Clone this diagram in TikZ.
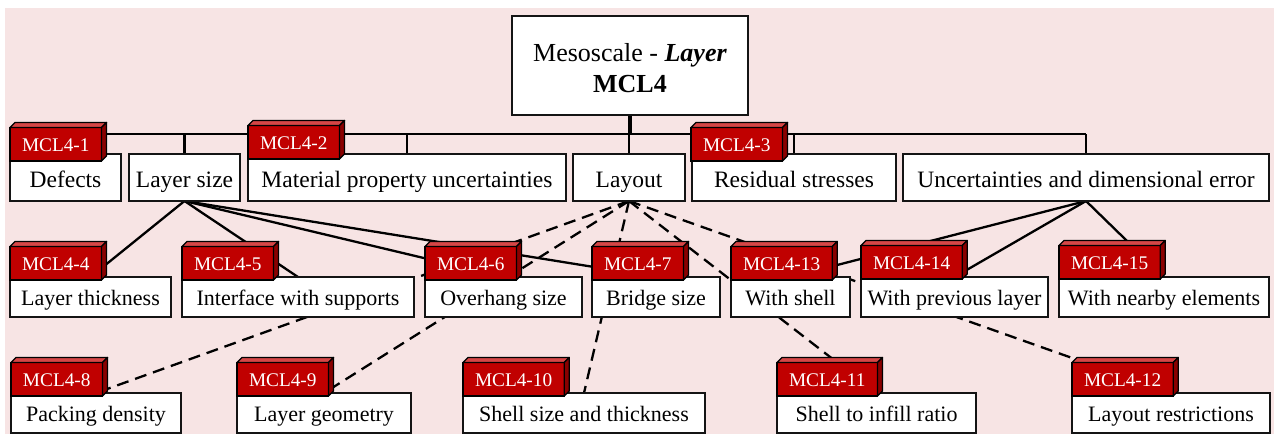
\documentclass[tikz,border=0pt]{standalone}
\usepackage{fontspec}
\setmainfont{Liberation Serif}
\usetikzlibrary{calc}

\definecolor{bgpink}{RGB}{247,228,228}
\definecolor{tagred}{RGB}{192,0,0}
\definecolor{tagtop}{RGB}{214,70,70}
\definecolor{tagside}{RGB}{138,0,0}
\definecolor{edge}{RGB}{20,20,20}

\pgfdeclarelayer{back}
\pgfdeclarelayer{wires}
\pgfsetlayers{back,wires,main}

\tikzset{
  box/.style={draw=edge, line width=1.6pt, fill=white, rectangle, outer sep=0pt,
    inner xsep=2pt, inner ysep=0pt, anchor=north west, align=center},
  lvlone/.style={box, minimum height=47pt, text height=25pt, text depth=5pt,
    font=\fontsize{23.5}{28}\selectfont},
  lvltwo/.style={box, minimum height=40pt, text height=21pt, text depth=5pt,
    font=\fontsize{22}{26}\selectfont},
  lvlthree/.style={lvltwo, text height=22pt},
  tagbox/.style={rectangle, fill=tagred, draw=black, line width=1.3pt, text=white,
    outer sep=0pt, inner xsep=12pt, inner ysep=0pt, minimum height=33.5pt,
    text height=17pt, text depth=3pt,
    anchor=south west, font=\fontsize{19.3}{22}\selectfont},
  tagedge/.style={draw=black, line width=1.3pt, line join=round},
  link/.style={line width=2.3pt, black},
  dlink/.style={line width=2.3pt, black, dash pattern=on 12pt off 7pt},
}

% red 3-D label block: name, x, y of the front face's lower left corner, text
\newcommand{\mcltag}[4]{%
  \node[tagbox] (#1) at (#2,#3) {#4};
  \filldraw[tagedge, fill=tagtop] (#1.north west) -- ++(5,-5)
    -- ($(#1.north east)+(5,-5)$) -- (#1.north east) -- cycle;
  \filldraw[tagedge, fill=tagside] (#1.north east) -- ++(5,-5)
    -- ($(#1.south east)+(5,-5)$) -- (#1.south east) -- cycle;
}

\begin{document}
\begin{tikzpicture}[x=1pt, y=-1pt]
\useasboundingbox (0,0) rectangle (1274,434);
\begin{pgfonlayer}{back}
  \fill[bgpink] (5,8) rectangle (1274,434);
\end{pgfonlayer}

% root
\node[box, minimum width=236pt, minimum height=99pt] (root) at (512,16) {};
\node[align=center, inner sep=0pt, font=\fontsize{26}{31}\selectfont] (roottext)
  at ($(root.center)+(0,3)$) {Mesoscale - \textbf{\textit{Layer}}\\\textbf{MCL4}};

% first level
\node[lvlone, minimum width=111pt] (def) at (10,154) {Defects};
\node[lvlone, minimum width=111pt] (lsz) at (129,154) {Layer size};
\node[lvlone, minimum width=318pt] (mat) at (248,154) {Material property uncertainties};
\node[lvlone, minimum width=112pt] (lay) at (573,154) {Layout};
\node[lvlone, minimum width=204pt] (res) at (692,154) {Residual stresses};
\node[lvlone, minimum width=366pt] (unc) at (903,154) {Uncertainties and dimensional error};

% second level
\node[lvltwo, minimum width=161pt] (thk) at (10,277) {Layer thickness};
\node[lvltwo, minimum width=232pt] (ifs) at (182,277) {Interface with supports};
\node[lvltwo, minimum width=157pt] (ovh) at (425,277) {Overhang size};
\node[lvltwo, minimum width=128pt] (brg) at (592,277) {Bridge size};
\node[lvltwo, minimum width=119pt] (wsh) at (731,277) {With shell};
\node[lvltwo, minimum width=187pt] (wpl) at (861,277) {With previous layer};
\node[lvltwo, minimum width=210pt] (wne) at (1059,277) {With nearby elements};

% third level
\node[lvlthree, minimum width=170pt] (pack) at (11,393) {Packing density};
\node[lvlthree, minimum width=174pt] (geo) at (237,393) {Layer geometry};
\node[lvlthree, minimum width=242pt] (ssz) at (463,393) {Shell size and thickness};
\node[lvlthree, minimum width=199pt] (sir) at (777,393) {Shell to infill ratio};
\node[lvlthree, minimum width=198pt] (lrs) at (1072,393) {Layout restrictions};

% connectors, kept behind the boxes
\coordinate (busy) at (0,134);
\begin{pgfonlayer}{wires}
  \draw[line width=3.2pt] (root.south) -- (root.south |- busy);
  \draw[link] (def.north |- busy) -- (unc.north |- busy);
  \foreach \b in {def,lsz,mat,lay,res,unc}
    \draw[link] (\b.north) -- (\b.north |- busy);
  \foreach \b in {thk,ifs,ovh,brg}
    \draw[link] (lsz.south) -- (\b.north);
  \foreach \b in {wsh,wpl,wne}
    \draw[link] (unc.south) -- (\b.north);
  \foreach \b in {pack,geo,ssz,sir,lrs}
    \draw[dlink] (lay.south) -- (\b.north);
\end{pgfonlayer}

% label blocks
\mcltag{t1}{10}{161}{MCL4-1}
\mcltag{t2}{248}{159}{MCL4-2}
\mcltag{t3}{691}{161}{MCL4-3}
\mcltag{t4}{10}{280}{MCL4-4}
\mcltag{t5}{182}{280}{MCL4-5}
\mcltag{t6}{425}{280}{MCL4-6}
\mcltag{t7}{592}{280}{MCL4-7}
\mcltag{t13}{731}{280}{MCL4-13}
\mcltag{t14}{861}{279}{MCL4-14}
\mcltag{t15}{1059}{279}{MCL4-15}
\mcltag{t8}{11}{396}{MCL4-8}
\mcltag{t9}{237}{396}{MCL4-9}
\mcltag{t10}{463}{396}{MCL4-10}
\mcltag{t11}{777}{396}{MCL4-11}
\mcltag{t12}{1072}{396}{MCL4-12}
\end{tikzpicture}
\end{document}
